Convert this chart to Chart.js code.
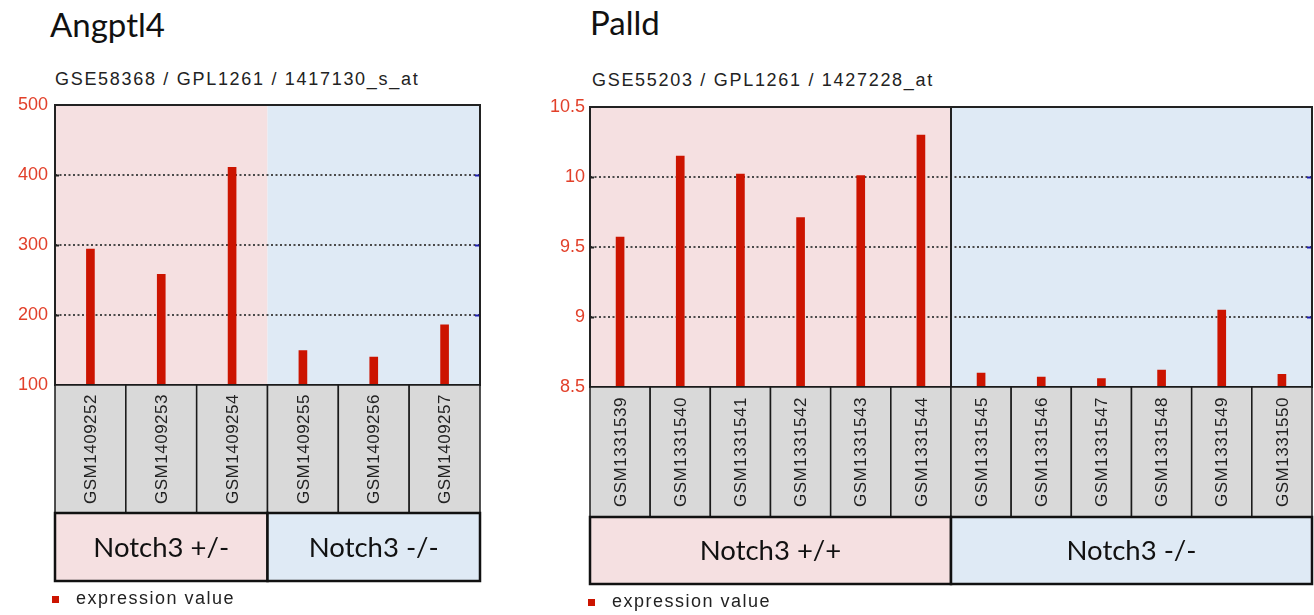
<!DOCTYPE html>
<html>
<head>
<meta charset="utf-8">
<script src="https://cdn.jsdelivr.net/npm/chart.js@4.4.1/dist/chart.umd.min.js"></script>
<style>
  body { margin: 0; width: 1314px; height: 615px; position: relative; overflow: hidden; background: #fff; }
  canvas { position: absolute; top: 0; }
  .title { position: absolute; font: 33px Lato, sans-serif; line-height: 33px; color: #111; }
  .sub { position: absolute; font: 18px 'Liberation Sans', Arial, sans-serif; line-height: 18px; color: #222; letter-spacing: 1.7px; white-space: nowrap; }
  .legend { position: absolute; font: 18px 'Liberation Sans', Arial, sans-serif; line-height: 18px; color: #222; letter-spacing: 1.5px; white-space: nowrap; }
  .legend span { position: absolute; width: 7px; height: 7px; background: #cc1400; }
</style>
</head>
<body>
<div class="title" style="left:50px;top:8px">Angptl4</div>
<div class="sub" style="left:55px;top:70px">GSE58368 / GPL1261 / 1417130_s_at</div>
<canvas id="angptl" width="500" height="615" style="left:0;width:500px;height:615px"></canvas>
<div class="legend" style="left:76px;top:589px"><span style="left:-24px;top:7px"></span>expression value</div>

<div class="title" style="left:590px;top:6px">Palld</div>
<div class="sub" style="left:592px;top:71px">GSE55203 / GPL1261 / 1427228_at</div>
<canvas id="palld" width="774" height="615" style="left:540px;width:774px;height:615px"></canvas>
<div class="legend" style="left:612px;top:592px"><span style="left:-24px;top:7px"></span>expression value</div>

<script>
'use strict';

// Angptl4 panel
const angptlSamples = ['GSM1409252', 'GSM1409253', 'GSM1409254', 'GSM1409255', 'GSM1409256', 'GSM1409257'];
const angptlValues = [294, 258, 411, 149, 140, 186];
const angptlGroups = ['Notch3 +/-', 'Notch3 -/-'];
const angptlGroupSizes = [3, 3];
const angptlTicks = [100, 200, 300, 400, 500];

// Palld panel
const palldSamples = ['GSM1331539', 'GSM1331540', 'GSM1331541', 'GSM1331542', 'GSM1331543', 'GSM1331544',
  'GSM1331545', 'GSM1331546', 'GSM1331547', 'GSM1331548', 'GSM1331549', 'GSM1331550'];
const palldValues = [9.57, 10.15, 10.02, 9.71, 10.01, 10.3, 8.6, 8.57, 8.56, 8.62, 9.05, 8.59];
const palldGroups = ['Notch3 +/+', 'Notch3 -/-'];
const palldGroupSizes = [6, 6];
const palldTicks = [8.5, 9, 9.5, 10, 10.5];

const seriesName = 'expression value';
const groupFills = ['#f5e0e1', '#dfeaf5'];
const barRed = '#cc1400';

// edge of sample cell i, taken from the category scale
function cellEdge(chart, i, n) {
  const a = chart.chartArea;
  const x = chart.scales.x;
  if (i <= 0) return a.left;
  if (i >= n) return a.right;
  return (x.getPixelForValue(i - 1) + x.getPixelForValue(i)) / 2;
}

const boxesPlugin = {
  id: 'boxes',
  beforeDraw(chart, args, opts) {
    const { ctx, chartArea: a } = chart;
    const n = chart.data.labels.length;
    let start = 0;
    ctx.save();
    opts.sizes.forEach((size, g) => {
      const x0 = cellEdge(chart, start, n);
      const x1 = cellEdge(chart, start + size, n);
      ctx.fillStyle = groupFills[g];
      ctx.fillRect(x0, a.top, x1 - x0, a.bottom - a.top);
      start += size;
    });
    ctx.restore();
  },
  afterDraw(chart, args, opts) {
    const { ctx, chartArea: a, scales: { y } } = chart;
    const labels = chart.data.labels;
    const n = labels.length;
    ctx.save();

    // little tick marks at both ends of the grid lines
    y.ticks.forEach((t, i) => {
      if (i === 0 || i === y.ticks.length - 1) return;
      const py = Math.round(y.getPixelForValue(t.value)) + 0.5;
      ctx.lineWidth = 2;
      ctx.strokeStyle = '#1c1cb0';
      ctx.beginPath(); ctx.moveTo(a.right - 5, py); ctx.lineTo(a.right, py); ctx.stroke();
      ctx.strokeStyle = '#222';
      ctx.beginPath(); ctx.moveTo(a.left, py); ctx.lineTo(a.left + 4, py); ctx.stroke();
    });

    // plot frame
    ctx.strokeStyle = '#222';
    ctx.lineWidth = 2;
    ctx.strokeRect(a.left, a.top, a.right - a.left, a.bottom - a.top);
    if (opts.divider) {
      const xd = cellEdge(chart, opts.sizes[0], n);
      ctx.beginPath(); ctx.moveTo(xd, a.top); ctx.lineTo(xd, a.bottom); ctx.stroke();
    }

    // sample name boxes
    const catTop = a.bottom;
    const catBottom = a.bottom + opts.catHeight;
    for (let i = 0; i < n; i++) {
      const x0 = cellEdge(chart, i, n);
      const x1 = cellEdge(chart, i + 1, n);
      ctx.fillStyle = '#d9d9d9';
      ctx.fillRect(x0, catTop, x1 - x0, catBottom - catTop);
      ctx.lineWidth = 1.5;
      ctx.strokeStyle = '#1a1a1a';
      ctx.strokeRect(x0, catTop, x1 - x0, catBottom - catTop);

      ctx.save();
      ctx.translate((x0 + x1) / 2, (catTop + catBottom) / 2);
      ctx.rotate(-Math.PI / 2);
      ctx.font = '17px "Liberation Sans", Arial, sans-serif';
      if ('letterSpacing' in ctx) ctx.letterSpacing = '0.5px';
      ctx.fillStyle = '#222';
      ctx.textAlign = 'center';
      ctx.textBaseline = 'middle';
      ctx.fillText(labels[i], 0, 1);
      ctx.restore();
    }

    // group boxes
    const gTop = catBottom;
    const gBottom = catBottom + opts.groupHeight;
    let start = 0;
    opts.sizes.forEach((size, g) => {
      const x0 = cellEdge(chart, start, n);
      const x1 = cellEdge(chart, start + size, n);
      ctx.fillStyle = groupFills[g];
      ctx.fillRect(x0, gTop, x1 - x0, gBottom - gTop);
      ctx.lineWidth = 2.5;
      ctx.strokeStyle = '#111';
      ctx.strokeRect(x0, gTop, x1 - x0, gBottom - gTop);
      ctx.fillStyle = '#111';
      ctx.font = '27.5px Lato, sans-serif';
      ctx.textAlign = 'center';
      ctx.textBaseline = 'middle';
      ctx.fillText(opts.groups[g], (x0 + x1) / 2, (gTop + gBottom) / 2 + 1);
      start += size;
    });
    ctx.restore();
  }
};

function makePanel(canvasId, samples, values, groups, sizes, ticks, look) {
  const lo = ticks[0];
  const hi = ticks[ticks.length - 1];
  return new Chart(document.getElementById(canvasId), {
    type: 'bar',
    data: {
      labels: samples,
      datasets: [{
        label: seriesName,
        data: values,
        backgroundColor: barRed,
        barThickness: 8,
        borderWidth: 0
      }]
    },
    options: {
      responsive: false,
      animation: false,
      layout: { padding: look.padding },
      plugins: {
        legend: { display: false },
        tooltip: { enabled: false },
        boxes: {
          groups: groups,
          sizes: sizes,
          catHeight: look.catHeight,
          groupHeight: look.groupHeight,
          divider: look.divider
        }
      },
      scales: {
        x: { display: false },
        y: {
          min: lo,
          max: hi,
          afterBuildTicks: s => { s.ticks = ticks.map(v => ({ value: v })); },
          afterFit: s => { s.width = look.axisWidth; },
          ticks: {
            color: '#e2402a',
            padding: look.tickPad,
            font: { family: 'Liberation Sans', size: 18 },
            callback: v => String(v)
          },
          grid: {
            drawTicks: false,
            lineWidth: 2,
            color: c => (c.tick && (c.tick.value === lo || c.tick.value === hi)) ? 'rgba(0,0,0,0)' : '#4a4a4a'
          },
          border: { display: false, dash: [2, 2.5] }
        }
      }
    },
    plugins: [boxesPlugin]
  });
}

makePanel('angptl', angptlSamples, angptlValues, angptlGroups, angptlGroupSizes, angptlTicks, {
  padding: { left: 0, top: 105, right: 20, bottom: 230 },
  axisWidth: 55, tickPad: 7, catHeight: 128, groupHeight: 68, divider: false
});

makePanel('palld', palldSamples, palldValues, palldGroups, palldGroupSizes, palldTicks, {
  padding: { left: 0, top: 107, right: 2, bottom: 228 },
  axisWidth: 50, tickPad: 5, catHeight: 130, groupHeight: 67, divider: true
});
</script>
</body>
</html>
